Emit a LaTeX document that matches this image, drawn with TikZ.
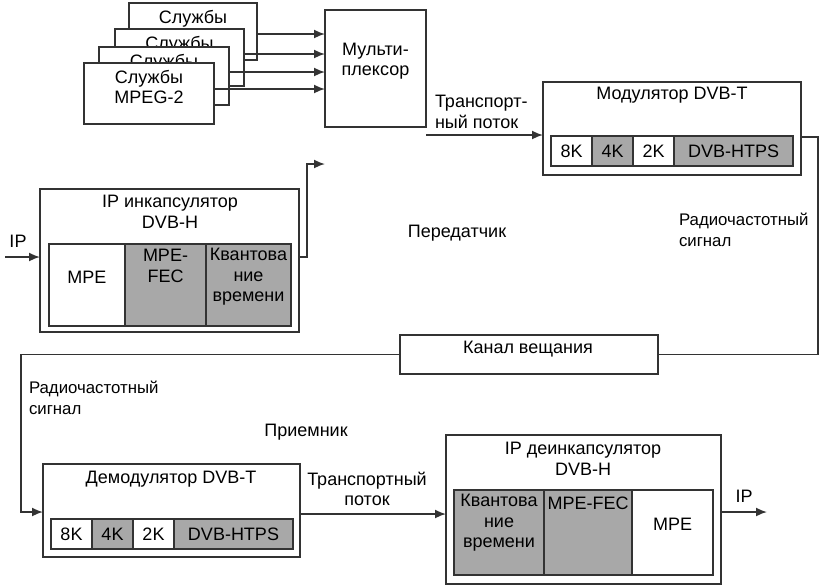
\documentclass[tikz,border=0pt]{standalone}
\usepackage{fontspec}
\setmainfont{Liberation Sans}
\usetikzlibrary{arrows.meta}
\definecolor{linec}{HTML}{333333}
\definecolor{cellg}{HTML}{A8A8A8}
\begin{document}
\begin{tikzpicture}[x=1pt,y=-1pt,
    every node/.style={font=\fontsize{18}{20.5}\selectfont, inner sep=0pt, outer sep=0pt},
    blk/.style={draw=linec, line width=1.8pt, fill=white, anchor=north west},
    cell/.style={blk, line width=1.5pt},
    gcell/.style={cell, fill=cellg},
    ln/.style={draw=linec, line width=1.7pt},
    arr/.style={ln, -{Latex[length=11pt,width=9pt]}},
    rflbl/.style={anchor=west, align=left, font=\fontsize{16.8}{20.5}\selectfont},
    srvtxt/.style={anchor=north, align=center, yshift=-7pt}]

  \useasboundingbox (0,0) rectangle (821,587);

  % services and multiplexer
  \node[blk, minimum width=128pt, minimum height=57pt, label={[srvtxt]north:Службы}] (srv1) at (129,3) {};
  \node[blk, minimum width=129pt, minimum height=57pt, label={[srvtxt]north:Службы}] (srv2) at (115,29) {};
  \node[blk, minimum width=130pt, minimum height=58pt, label={[srvtxt]north:Службы}] (srv3) at (99,47) {};
  \node[blk, minimum width=130pt, minimum height=61pt, label={[srvtxt]north:Службы\\MPEG-2}] (srv4) at (84,63) {};
  \node[blk, minimum width=101pt, minimum height=117pt] (mux) at (325,10) {};
  \node[align=center] at (375.5,61) {Мульти-\\плексор};
  \foreach \i/\y in {1/34,2/54,3/72,4/89}
    \draw[arr] (srv\i.east |- 0,\y) -- (mux.west |- 0,\y);

  % modulator
  \node[blk, minimum width=258pt, minimum height=93pt] (mod) at (543,82) {};
  \node at (672,95) {Модулятор DVB-T};
  \node[cell, minimum width=41pt, minimum height=30pt] (m8k) at (551,136) {8K};
  \node[gcell, minimum width=41pt, minimum height=30pt] (m4k) at (m8k.north east) {4K};
  \node[cell, minimum width=41pt, minimum height=30pt] (m2k) at (m4k.north east) {2K};
  \node[gcell, minimum width=119pt, minimum height=30pt] (mhtps) at (m2k.north east) {DVB-HTPS};

  \coordinate (tsout) at (426,135);
  \draw[arr] (tsout) -- (tsout -| mod.west);
  \node[anchor=west, align=left] at (435,112) {Транспорт-\\ный поток};

  % IP encapsulator
  \node[blk, minimum width=259pt, minimum height=143pt] (encap) at (40,189) {};
  \node[align=center] at (170,212) {IP инкапсулятор\\DVB-H};
  \node[cell, minimum width=76pt, minimum height=82pt] (empe) at (49,244) {};
  \node[gcell, minimum width=81pt, minimum height=82pt] (efec) at (empe.north east) {};
  \node[gcell, minimum width=85pt, minimum height=82pt] (etsl) at (efec.north east) {};
  \node at (87,277) {MPE};
  \node[align=center] at (165.5,266) {MPE-\\FEC};
  \node[align=center] at (248.5,277) {Квантова\\ние\\времени};

  \coordinate (ipin) at (5,257);
  \draw[arr] (ipin) -- (ipin -| encap.west);
  \node at (18,241) {IP};
  \coordinate (tsin) at (325,164);
  \draw[arr] (encap.east |- ipin) -- ++(8,0) |- (tsin);

  \node at (457,233) {Передатчик};

  % broadcast channel
  \node[blk, minimum width=258pt, minimum height=39pt] (chan) at (400,335) {};
  \node at (528,349) {Канал вещания};
  \draw[ln] (mod.east |- 0,137) -- ++(17,0) |- (chan.east);
  \node[rflbl] at (679,230) {Радиочастотный\\сигнал};

  % demodulator
  \node[blk, minimum width=257pt, minimum height=93pt] (demod) at (43,464) {};
  \node at (171,479) {Демодулятор DVB-T};
  \node[cell, minimum width=41pt, minimum height=30pt] (d8k) at (51,519) {8K};
  \node[gcell, minimum width=41pt, minimum height=30pt] (d4k) at (d8k.north east) {4K};
  \node[cell, minimum width=41pt, minimum height=30pt] (d2k) at (d4k.north east) {2K};
  \node[gcell, minimum width=119pt, minimum height=30pt] (dhtps) at (d2k.north east) {DVB-HTPS};

  \coordinate (rfl) at (21,512);
  \draw[arr] (chan.west) -| (rfl) -- (rfl -| demod.west);
  \node[rflbl] at (29,398) {Радиочастотный\\сигнал};
  \node at (306,432) {Приемник};

  % IP deencapsulator
  \node[blk, minimum width=275pt, minimum height=149pt] (deenc) at (446,435) {};
  \node[align=center] at (583,459) {IP деинкапсулятор\\DVB-H};
  \node[gcell, minimum width=90pt, minimum height=85pt] (dtsl) at (454,490) {};
  \node[gcell, minimum width=88pt, minimum height=85pt] (dfec) at (dtsl.north east) {};
  \node[cell, minimum width=81pt, minimum height=85pt] (dmpe) at (dfec.north east) {};
  \node[align=center] at (499,523) {Квантова\\ние\\времени};
  \node at (588,503) {MPE-FEC};
  \node at (672.5,524) {MPE};

  \draw[arr] (demod.east |- 0,514) -- (deenc.west |- 0,514);
  \node[align=center] at (367,489) {Транспортный\\поток};
  \coordinate (ipout) at (767,512);
  \draw[arr] (deenc.east |- ipout) -- (ipout);
  \node at (744,496) {IP};
\end{tikzpicture}
\end{document}
